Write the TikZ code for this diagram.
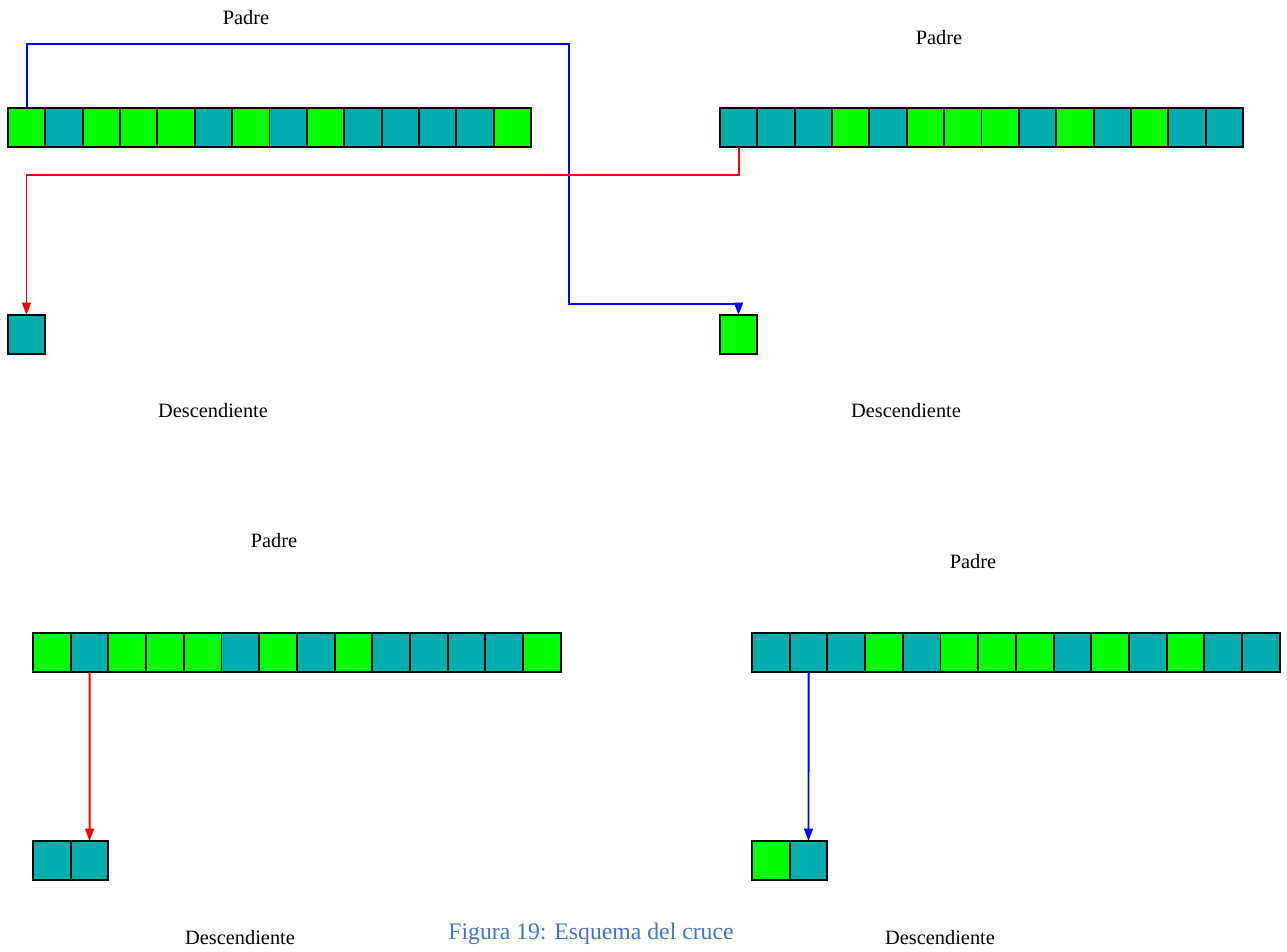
\documentclass[tikz,border=0pt]{standalone}
\usepackage{fontspec}
\setmainfont{Liberation Serif}
\usetikzlibrary{arrows.meta}
\definecolor{gv}{HTML}{00FF00}
\definecolor{ga}{HTML}{00AEAE}
\definecolor{captazul}{HTML}{4472C4}
\tikzset{>={Triangle[length=7pt,width=5pt]}}
\tikzset{
  gen/.style={draw=black,line width=1.1pt,minimum width=0.748cm,minimum height=0.78cm,inner sep=0pt,outer sep=0pt},
  genb/.style={gen,minimum width=0.754cm},
  lbl/.style={font=\fontsize{11.6}{13}\selectfont},
  rojo/.style={draw=red,line width=1.1pt,->},
  azul/.style={draw=blue,line width=1.1pt,->}
}

\begin{document}
\begin{tikzpicture}[x=0.02cm,y=-0.02cm]
\useasboundingbox (0,0) rectangle (1287,951);
% padres de arriba
\foreach \col [count=\i] in {gv,ga,gv,gv,gv,ga,gv,ga,gv,ga,ga,ga,ga,gv}
  \node[gen,fill=\col] (pl\i) at ({8+37.36*(\i-.5)},127.5) {};
\foreach \col [count=\i] in {ga,ga,ga,gv,ga,gv,gv,gv,ga,gv,ga,gv,ga,ga}
  \node[gen,fill=\col] (pr\i) at ({720+37.36*(\i-.5)},127.5) {};
% padres de abajo
\foreach \col [count=\i] in {gv,ga,gv,gv,gv,ga,gv,ga,gv,ga,ga,ga,ga,gv}
  \node[genb,fill=\col] (ql\i) at ({33+37.7*(\i-.5)},652.5) {};
\foreach \col [count=\i] in {ga,ga,ga,gv,ga,gv,gv,gv,ga,gv,ga,gv,ga,ga}
  \node[genb,fill=\col] (qr\i) at ({752+37.7*(\i-.5)},652.5) {};
% descendientes
\node[gen,fill=ga] (dl1) at (26.5,334.5) {};
\node[gen,fill=gv] (dr1) at (738.5,334.5) {};
\node[gen,fill=ga] (el1) at (52,860.5) {};
\node[gen,fill=ga] (el2) at (89.6,860.5) {};
\node[gen,fill=gv] (er1) at (770.9,860.5) {};
\node[gen,fill=ga] (er2) at (808.5,860.5) {};
% textos
\node[lbl] (tpl) at (246,18) {Padre};
\node[lbl] (tpr) at (939,38) {Padre};
\node[lbl] (tql) at (274,541) {Padre};
\node[lbl] (tqr) at (973,562) {Padre};
\node[lbl] (tdl) at (213,411) {Descendiente};
\node[lbl] (tdr) at (906,411) {Descendiente};
\node[lbl] (tel) at (240,938) {Descendiente};
\node[lbl] (ter) at (940,938) {Descendiente};
\node[font=\fontsize{13.5}{15}\selectfont,text=captazul] (cap) at (591,934) {Figura 19: Esquema del cruce};
% cruces
\coordinate (b1) at (569,44);
\coordinate (b2) at (569,304);
\coordinate (r1) at (26.5,175);
\draw[azul] (pl1.north) |- (b1) -- (b2) -| (dr1.north);
\draw[rojo] (pr1.south) |- (r1) -- (dl1.north);
\draw[rojo] (ql2.south) -- (el2.north);
\draw[azul] (qr2.south) -- (er2.north);
\end{tikzpicture}
\end{document}
